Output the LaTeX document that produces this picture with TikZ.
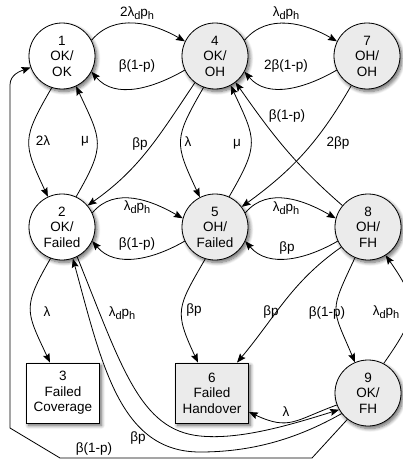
\documentclass[tikz,border=0pt]{standalone}
\usepackage{fontspec}
\setmainfont{Liberation Sans}
\usetikzlibrary{arrows.meta,shadows.blur}
\definecolor{stategray}{gray}{0.92}
% lowered index letters in the rate labels
\newcommand{\sbs}[1]{\raisebox{-3.5pt}{\fontsize{11}{11}\selectfont #1}}
\tikzset{
  softshadow/.style={blur shadow={shadow xshift=2pt, shadow yshift=-2.5pt,
      shadow blur radius=3.5pt, shadow blur steps=8, shadow opacity=60}},
  statenode/.style={circle, draw, line width=0.8pt, minimum size=66pt, inner sep=0pt,
    align=center, font=\fontsize{13.5}{15.5}\selectfont, softshadow},
  endnode/.style={rectangle, draw, line width=0.8pt, minimum width=73pt, minimum height=60pt,
    inner sep=0pt, align=center, font=\fontsize{13.5}{15.5}\selectfont, softshadow},
  plainfill/.style={fill=white},
  greyfill/.style={fill=stategray},
  trans/.style={-{Stealth[length=9pt,width=7pt,inset=1.5pt]}, line width=0.8pt},
  lbl/.style={font=\fontsize{13.5}{15.5}\selectfont, inner sep=0pt}
}
\begin{document}
\begin{tikzpicture}[x=1pt,y=1pt]
\useasboundingbox (0,0) rectangle (403,-463);

% states
\node[statenode, plainfill] (n1) at (62,-56)  {1\\OK/\\OK};
\node[statenode, greyfill]  (n4) at (215,-56) {4\\OK/\\OH};
\node[statenode, greyfill]  (n7) at (367,-56) {7\\OH/\\OH};
\node[statenode, plainfill] (n2) at (62,-227)  {2\\OK/\\Failed};
\node[statenode, greyfill]  (n5) at (215,-227) {5\\OH/\\Failed};
\node[statenode, greyfill]  (n8) at (368,-227) {8\\OH/\\FH};
\node[statenode, greyfill]  (n9) at (368,-393) {9\\OK/\\FH};
\node[endnode, plainfill]   (n3) at (63,-393)  {3\\Failed\\Coverage};
\node[endnode, greyfill]    (n6) at (212,-393) {6\\Failed\\Handover};

% top row
\draw[trans] (n1.28) to[out=50,in=150] (n4.154);
\draw[trans] (n4.-155) to[out=210,in=-50] (n1.-28);
\draw[trans] (n4.28) to[out=50,in=150] (n7.154);
\draw[trans] (n7.-155) to[out=210,in=-50] (n4.-28);
\node[lbl] (r14) at (137,-13) {2λ\sbs{d}p\sbs{h}};
\node[lbl] (r41) at (137,-66) {β(1-p)};
\node[lbl] (r47) at (286,-13) {λ\sbs{d}p\sbs{h}};
\node[lbl] (r74) at (286,-66) {2β(1-p)};

% vertical pairs
\draw[trans] (n1.-108) to[out=240,in=115,looseness=1.4] (n2.115);
\draw[trans] (n2.65) to[out=60,in=-65,looseness=1.4] (n1.-65);
\draw[trans] (n4.-110) to[out=240,in=115,looseness=1.4] (n5.117);
\draw[trans] (n5.65) to[out=60,in=-65,looseness=1.4] (n4.-62);
\node[lbl] (r12) at (43,-141)  {2λ};
\node[lbl] (r21) at (85,-141)  {μ};
\node[lbl] (r45) at (188,-142) {λ};
\node[lbl] (r54) at (237,-144) {μ};

% diagonals
\draw[trans] (n4.233) to[out=236,in=35] (n2.40);
\draw[trans] (n8.140) to[out=139,in=-55] (n4.-52);
\draw[trans] (n7.242) to[out=240,in=36] (n5.37);
\node[lbl] (r42) at (140,-144) {βp};
\node[lbl] (r84) at (287,-116) {β(1-p)};
\node[lbl] (r75) at (338,-143) {2βp};

% middle row
\draw[trans] (n2.25) to[out=50,in=150] (n5.165);
\draw[trans] (n5.-155) to[out=210,in=-50] (n2.-25);
\draw[trans] (n5.25) to[out=50,in=150] (n8.165);
\draw[trans] (n8.-155) to[out=210,in=-50] (n5.-25);
\node[lbl] (r25) at (137,-207) {λ\sbs{d}p\sbs{h}};
\node[lbl] (r52) at (137,-244) {β(1-p)};
\node[lbl] (r58) at (286,-208) {λ\sbs{d}p\sbs{h}};
\node[lbl] (r85) at (287,-248) {βp};

% towards the bottom row
\draw[trans] (n2.-110) to[out=240,in=115,looseness=1.4] ([xshift=-13pt]n3.north);
\draw[trans] (n5.-107) to[out=240,in=115,looseness=1.4] ([xshift=-14pt]n6.north);
\draw[trans] (n8.217) to[out=215,in=50] ([xshift=25pt]n6.north);
\draw[trans] (n8.-113) to[out=245,in=113,looseness=1.5] (n9.113);
\draw[trans] (n9.62) to[out=55,in=-55,looseness=1.4] (n8.-58);
\draw[trans] (n9.201) to[out=200,in=-25,looseness=1.3] ([yshift=-19pt]n6.east);
\node[lbl] (r23) at (47,-312)  {λ};
\node[lbl] (r56) at (194,-310) {βp};
\node[lbl] (r86) at (271,-312) {βp};
\node[lbl] (r89) at (327,-313) {β(1-p)};
\node[lbl] (r98) at (386,-312) {λ\sbs{d}p\sbs{h}};
\node[lbl] (r96) at (286,-412) {λ};

% long transitions between 2 and 9
\draw[trans] (n2.-63) .. controls (122,-368) and (140,-430) .. (200,-436)
  .. controls (240,-440) and (290,-425) .. (n9.210);
\draw[trans] (n9.218) .. controls (295,-440) and (250,-452) .. (200,-452)
  .. controls (120,-452) and (102,-365) .. (n2.-71);
\node[lbl] (r29) at (122,-313) {λ\sbs{d}p\sbs{h}};
\node[lbl] (r92) at (138,-438) {βp};

% return from 9 to 1 around the left side
\draw[trans] (n9.232) -- (312,-458) -- (60,-458) -- (10,-428) -- (10,-85)
  to[out=90,in=200] (n1.200);
\node[lbl] (r91) at (94,-449) {β(1-p)};
\end{tikzpicture}
\end{document}
